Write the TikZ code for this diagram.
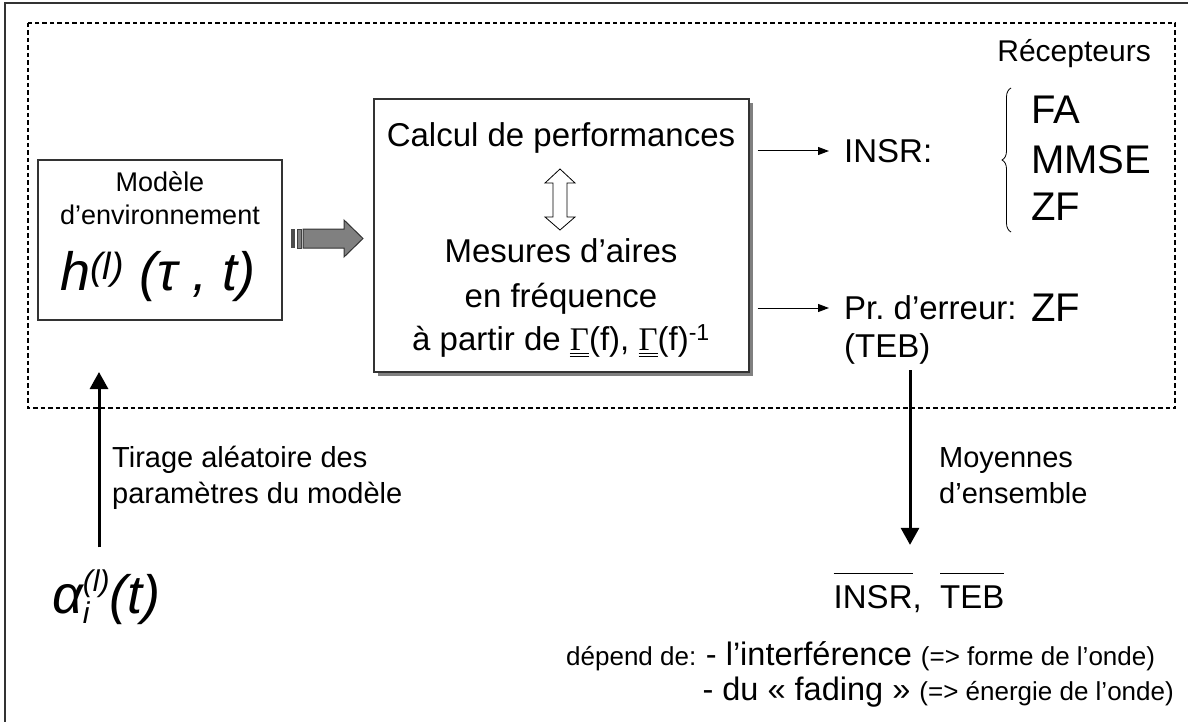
\documentclass[tikz,border=0pt]{standalone}
\usepackage{fontspec}
\setmainfont{Liberation Sans}
\newfontfamily\grkfont{Liberation Serif}
\usetikzlibrary{arrows.meta,decorations.pathreplacing,positioning}
\newcommand\fsz[1]{\fontsize{#1}{#1}\selectfont}
\newcommand\dul[1]{\vtop{\hbox{#1}\kern2.5pt\hrule height0.9pt\kern2.2pt\hrule height0.9pt}}
\newcommand\ovl[1]{\vbox{\hrule height0.9pt\kern11pt\hbox{#1}}}
\begin{document}
\begin{tikzpicture}[x=1pt, y=-1pt,
  every node/.style={inner sep=0pt},
  box/.style={draw=black!80, line width=1.2pt, fill=white},
  thinarr/.style={-{Triangle[length=11pt,width=8pt]}, line width=1pt},
  thickarr/.style={-{Triangle[length=17pt,width=18pt]}, line width=3pt}]
\useasboundingbox (0,0) rectangle (1188,722);
% frame and receiver zone
\draw[black!80, line width=1.5pt] (5,722) -- (5,3) -- (1188,3);
\draw[dash pattern=on 4.5pt off 3pt, line width=1.4pt] (28,23) rectangle (1175,408);
% channel model
\node[box, minimum width=244pt, minimum height=160pt] (model) at (160,240) {};
\node[anchor=base, font=\fsz{27}] (mod1) at (160,192) {Modèle};
\node[anchor=base, font=\fsz{27}] (mod2) at (160,225) {d’environnement};
\node[anchor=base, font=\fsz{54}\itshape] (hfun) at (158,290) {h\textsuperscript{(l)} (τ , t)};
% performance box with shadow
\fill[gray] (378,103) rectangle (753,376);
\node[box, minimum width=375pt, minimum height=273pt] (main) at (561.5,235.5) {};
\node[anchor=base, font=\fsz{33}] (calc) at (561,147) {Calcul de performances};
\node[anchor=base, font=\fsz{33}] (mes1) at (561,262) {Mesures d’aires};
\node[anchor=base, font=\fsz{33}] (mes2) at (561,307) {en fréquence};
\node[anchor=base, font=\fsz{33}] (mes3) at (561,350) {à partir de \dul{\grkfont Γ}(f), \dul{\grkfont Γ}(f)\textsuperscript{-1}};
\draw[line width=0.8pt, fill=white] (560,169) -- (575,183) -- (567,183) -- (567,217) -- (575,217) -- (560,230)
  -- (545,217) -- (553,217) -- (553,183) -- (545,183) -- cycle;
% block arrow
\fill[black!70] (291,229) rectangle (295,248);
\draw[black!75, fill=gray, line width=0.8pt] (297,229) rectangle (301,248);
\draw[black!80, fill=gray, line width=1pt] (303,229) -- (344,229) -- (344,220) -- (363,238.5) -- (344,257)
  -- (344,248) -- (303,248) -- cycle;
% outputs
\node[anchor=west, font=\fsz{33}] (insr) at (844,151) {INSR:};
\node[anchor=west, font=\fsz{33}] (prerr) at (844,308) {Pr.\ d’erreur:};
\node[anchor=base west, font=\fsz{33}] (teb) at (844,357) {(TEB)};
\draw[thinarr, shorten <=8pt, shorten >=15pt] (main.east |- insr.west) -- (insr.west);
\draw[thinarr, shorten <=8pt, shorten >=15pt] (main.east |- prerr.west) -- (prerr.west);
\node[anchor=base east, font=\fsz{30}] (recv) at (1151,62) {Récepteurs};
\node[anchor=base west, font=\fsz{40}] (fa) at (1031,124) {FA};
\node[anchor=base west, font=\fsz{40}] (mmse) at (1031,174) {MMSE};
\node[anchor=base west, font=\fsz{40}] (zf) at (1031,220) {ZF};
\node[anchor=base west, font=\fsz{40}] (zf2) at (1031,321) {ZF};
\draw[decorate, decoration={brace, amplitude=9pt}, line width=0.8pt] (1011,232) -- (1011,88);
% random draw
\node[anchor=base west, font=\fsz{54}\itshape] (alpha) at (52,613)
  {α\rlap{\raisebox{-0.2em}{\fsz{30}i}}\raisebox{0.4em}{\fsz{30}(l)}(t)};
\coordinate (tirtop) at (99,372);
\draw[thickarr, shorten <=22pt] (alpha.north -| tirtop) -- (tirtop);
\node[anchor=base west, font=\fsz{29}] (tir1) at (112,467) {Tirage aléatoire des};
\node[anchor=base west, font=\fsz{29}] (tir2) at (112,503) {paramètres du modèle};
% ensemble averages
\node[anchor=base, font=\fsz{33}] (avg) at (919,608) {\ovl{INSR},\ \ \ovl{TEB}};
\coordinate (mx) at (910,0);
\draw[thickarr, shorten <=6pt, shorten >=28pt] (teb.south -| mx) -- (avg.north -| mx);
\node[anchor=base west, font=\fsz{29}] (moy1) at (939,467) {Moyennes};
\node[anchor=base west, font=\fsz{29}] (moy2) at (939,503) {d’ensemble};
\node[anchor=base west] (dep1) at (566,665) {\fsz{26}dépend de: \fsz{32.5}- l’interférence \fsz{26}(=> forme de l’onde)};
\node[anchor=base east] (dep2) at (1174,700) {\fsz{32.5}- du « fading » \fsz{26}(=> énergie de l’onde)};
\end{tikzpicture}
\end{document}
